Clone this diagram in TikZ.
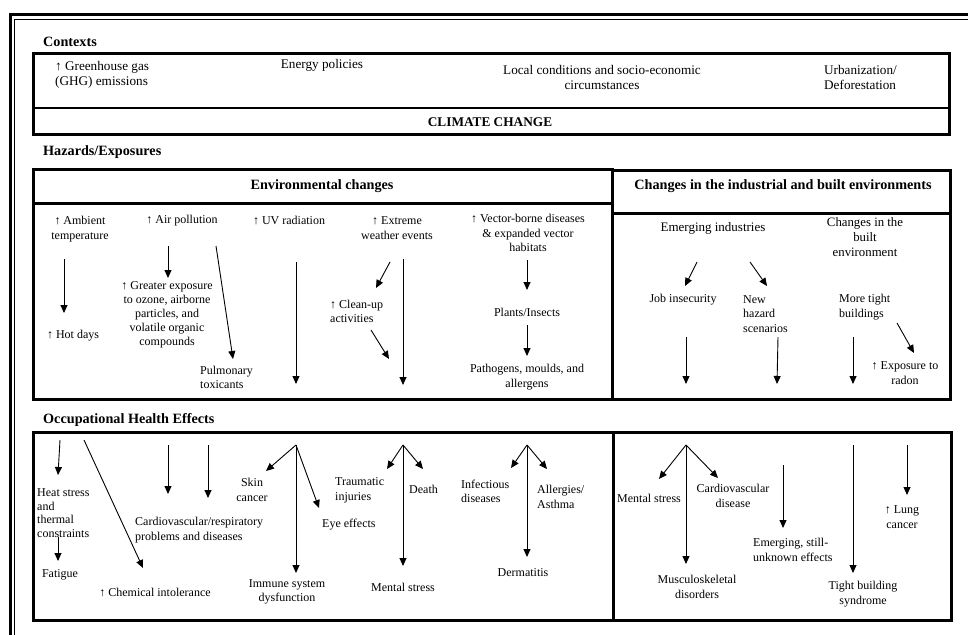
\documentclass[tikz,border=0pt]{standalone}
\usepackage{fontspec}
\setmainfont{Liberation Serif}
\usetikzlibrary{arrows.meta}
\newcommand\fb{\fontsize{12}{14.5}\selectfont}
\newcommand\fc{\fontsize{13.2}{15}\selectfont}
\newcommand\fhd{\fontsize{14.2}{16}\selectfont\bfseries}
\tikzset{
  txt/.style={inner sep=0pt, align=center, font=\fb},
  ltxt/.style={inner sep=0pt, align=left, anchor=west, font=\fb},
  hd/.style={inner sep=0pt, anchor=west, font=\fhd},
  box/.style={draw=black, line width=3pt},
  arr/.style={line width=0.9pt, -{Triangle[length=8pt,width=7pt]}},
}
\begin{document}
\begin{tikzpicture}[x=1pt,y=-1pt]
\useasboundingbox (0,0) rectangle (968,634);
% outer frame (cropped)
\draw[line width=3pt] (10,700) -- (10,15) -- (1000,15);
\draw[line width=1pt] (14.5,700) -- (14.5,19.5) -- (1000,19.5);

% ---------- Contexts ----------
\node[hd] (ctx) at (43,42) {Contexts};
\draw[box] (33.5,53.5) rectangle (949.5,134);
\draw[line width=1.2pt] (33.5,108) -- (949.5,108);
\node[ltxt, font=\fc] (ghg) at (55,74.5) {↑ Greenhouse gas\\(GHG) emissions};
\node[txt, font=\fc] (energy) at (322,65) {Energy policies};
\node[txt, font=\fc] (local) at (602,77) {Local conditions and socio-economic\\circumstances};
\node[ltxt, font=\fc] (urban) at (824,77) {Urbanization/\\Deforestation};
\node[txt, font=\fontsize{13.3}{15}\selectfont\bfseries] (climate) at (490,122) {CLIMATE CHANGE};

% ---------- Hazards ----------
\node[hd] (haz) at (43,152) {Hazards/Exposures};
\draw[box] (33.5,169.5) rectangle (612.5,399);
\draw[line width=2.5pt] (33.5,203.5) -- (612.5,203.5);
\draw[box] (612.5,170) rectangle (950.5,399);
\draw[line width=2.5pt] (612.5,213.5) -- (950.5,213.5);
\node[txt, font=\fhd] (envh) at (322,186) {Environmental changes};
\node[txt, font=\fhd] (indh) at (783,186) {Changes in the industrial and built environments};

\node[txt] (amb) at (80,229) {↑ Ambient\\temperature};
\node[txt] (hot) at (73,336) {↑ Hot days};
\node[txt] (airp) at (182,221) {↑ Air pollution};
\node[txt, font=\fontsize{12}{14}\selectfont] (greater) at (167,315) {↑ Greater exposure\\to ozone, airborne\\particles, and\\volatile organic\\compounds};
\node[ltxt] (pulm) at (200,377.5) {Pulmonary\\toxicants};
\node[txt] (uv) at (289,221) {↑ UV radiation};
\node[txt] (extreme) at (397,228) {↑ Extreme\\weather events};
\node[ltxt] (cleanup) at (330,311.5) {↑ Clean-up\\activities};
\node[txt] (vector) at (528,233) {↑ Vector-borne diseases\\\& expanded vector\\habitats};
\node[txt] (plants) at (527,312) {Plants/Insects};
\node[txt] (pathog) at (527,377) {Pathogens, moulds, and\\allergens};

\node[txt, font=\fontsize{13}{15}\selectfont] (emerg) at (713,228) {Emerging industries};
\node[txt, font=\fontsize{12.8}{15}\selectfont] (chbuilt) at (865,237) {Changes in the\\built\\environment};
\node[txt] (jobins) at (683,300) {Job insecurity};
\node[ltxt] (newhaz) at (743,314) {New\\hazard\\scenarios};
\node[ltxt] (moretight) at (839,307) {More tight\\buildings};
\node[txt] (radon) at (905,373) {↑ Exposure to\\radon};

% ---------- Occupational Health Effects ----------
\node[hd] (occ) at (43,420) {Occupational Health Effects};
\draw[box] (33.5,432.5) rectangle (613,620);
\draw[box] (613,432.5) rectangle (951.5,620.5);

\node[ltxt, font=\fontsize{12}{13.5}\selectfont] (heat) at (37,513) {Heat stress\\and\\thermal\\constraints};
\node[txt] (fatigue) at (60,575) {Fatigue};
\node[txt] (chem) at (155,593) {↑ Chemical intolerance};
\node[ltxt] (cardio) at (135,530) {Cardiovascular/respiratory\\problems and diseases};
\node[txt] (skin) at (252,490) {Skin\\cancer};
\node[ltxt] (eye) at (322,525) {Eye effects};
\node[txt] (immune) at (287,592) {Immune system\\dysfunction};
\node[ltxt] (traum) at (335,490.5) {Traumatic\\injuries};
\node[ltxt] (death) at (409,489) {Death};
\node[txt] (mstressA) at (403,587) {Mental stress};
\node[ltxt] (infect) at (461,491.5) {Infectious\\diseases};
\node[ltxt] (allerg) at (537,497) {Allergies/\\Asthma};
\node[txt] (derm) at (523,573) {Dermatitis};
\node[ltxt] (mstressB) at (617,498) {Mental stress};
\node[txt] (cvd) at (733,496) {Cardiovascular\\disease};
\node[ltxt] (emergeff) at (753,550) {Emerging, still-\\unknown effects};
\node[txt] (musc) at (697,587) {Musculoskeletal\\disorders};
\node[txt] (tight) at (863,594) {Tight building\\syndrome};
\node[txt] (lung) at (902,517) {↑ Lung\\cancer};

% ---------- straight arrows ----------
\foreach \n/\a/\b in {
  aA/{64,259}/{64,313}, aB/{168,246}/{168,278}, aC/{216,246}/{233,359},
  aD/{296,262}/{296,384}, aE/{403,259}/{403,385}, aF/{390,262}/{376,288},
  aG/{371,330}/{389,359}, aH/{527,260}/{527,290}, aI/{527,325}/{527,356},
  bA/{697,262}/{685,286}, bB/{750,262}/{767,286}, bC/{897,323}/{914,353},
  bD/{686,337}/{686,384}, bE/{778,337}/{777,384}, bF/{853,337}/{853,384},
  cA/{60,440}/{58,475}, cB/{58,537}/{58,561}, cC/{84,440}/{143,568},
  cD/{168,445}/{168,494}, cE/{208,445}/{208,498},
  cF/{783,465}/{783,528}, cG/{853,445}/{853,573}, cH/{907,445}/{907,495}}{
  \coordinate (\n s) at (\a);
  \coordinate (\n e) at (\b);
  \draw[arr] (\n s) -- (\n e);
}
% ---------- fans ----------
\foreach \n/\o/\l/\r/\d in {
  fA/{296,445}/{266,471}/{319,508}/{296,573},
  fB/{403,445}/{387,469}/{423,469}/{403,566},
  fC/{527,445}/{511,468}/{547,469}/{527,557},
  fD/{686,445}/{659,479}/{718,478}/{686,564}}{
  \coordinate (\n o) at (\o);
  \coordinate (\n l) at (\l);
  \coordinate (\n r) at (\r);
  \coordinate (\n d) at (\d);
  \draw[arr] (\n o) -- (\n l);
  \draw[arr] (\n o) -- (\n r);
  \draw[arr] (\n o) -- (\n d);
}
\end{tikzpicture}
\end{document}
